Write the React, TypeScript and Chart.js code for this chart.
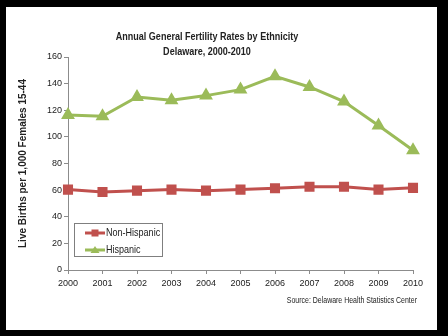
import React, { useEffect, useRef } from 'react';
import { Chart, registerables } from 'chart.js';

Chart.register(...registerables);

const years = ['2000', '2001', '2002', '2003', '2004', '2005', '2006', '2007', '2008', '2009', '2010'];
const nonHispanic = [60.4, 58.6, 59.6, 60.4, 59.6, 60.4, 61.4, 62.6, 62.6, 60.4, 61.7];
const hispanic = [116.5, 115.5, 130, 127.5, 131, 135.5, 145.5, 137.5, 126.5, 108.5, 90];
const yMin = 0;
const yMax = 160;
const yStep = 20;
const titleLines = ['Annual General Fertility Rates by Ethnicity', 'Delaware, 2000-2010'];
const yAxisTitle = 'Live Births per 1,000 Females 15-44';
const sourceText = 'Source: Delaware Health Statistics Center';
const seriesNames = ['Non-Hispanic', 'Hispanic'];

const SANS = '"Liberation Sans", Arial, sans-serif';
const RED = '#C0504D';
const GREEN = '#9BBB59';
const TEXT = '#222222';
const NARROW_SCALE = 0.82;

function narrowText(ctx: any, text: string, x: number, y: number, align: string) {
  ctx.save();
  ctx.translate(x, y);
  ctx.scale(NARROW_SCALE, 1);
  ctx.textAlign = align;
  ctx.textBaseline = 'middle';
  ctx.fillText(text, 0, 0);
  ctx.restore();
}

const decorPlugin = {
  id: 'decor',
  beforeDraw(chart: any) {
    const { ctx, width, height } = chart;
    ctx.save();
    ctx.fillStyle = '#000000';
    ctx.fillRect(0, 0, width, height);
    ctx.fillStyle = '#ffffff';
    ctx.fillRect(6, 7, 431, 323);
    ctx.restore();
  },
  afterDraw(chart: any) {
    const { ctx } = chart;
    ctx.save();
    ctx.fillStyle = TEXT;
    ctx.font = `bold 11px ${SANS}`;
    titleLines.forEach((t, i) => narrowText(ctx, t, 207, 37 + i * 15, 'center'));
    ctx.font = `8.5px ${SANS}`;
    narrowText(ctx, sourceText, 417, 301, 'right');
    // legend
    const lx = 74, ly = 223, lw = 88, lh = 33;
    ctx.strokeStyle = '#7f7f7f';
    ctx.lineWidth = 1;
    ctx.strokeRect(lx + 0.5, ly + 0.5, lw, lh);
    chart.data.datasets.forEach((ds: any, i: number) => {
      const cy = 233 + i * 17;
      ctx.strokeStyle = ds.borderColor;
      ctx.lineWidth = 3;
      ctx.beginPath();
      ctx.moveTo(85, cy);
      ctx.lineTo(105, cy);
      ctx.stroke();
      ctx.fillStyle = ds.pointBackgroundColor;
      if (ds.pointStyle === 'rect') {
        ctx.fillRect(91.5, cy - 3.5, 7, 7);
      } else {
        ctx.beginPath();
        ctx.moveTo(95, cy - 4);
        ctx.lineTo(99.5, cy + 3);
        ctx.lineTo(90.5, cy + 3);
        ctx.closePath();
        ctx.fill();
      }
      ctx.fillStyle = TEXT;
      ctx.font = `11px ${SANS}`;
      narrowText(ctx, ds.label, 106, cy, 'left');
    });
    ctx.restore();
  },
};

export default function App() {
  const ref = useRef<HTMLCanvasElement>(null);
  useEffect(() => {
    document.body.style.margin = '0';
    const chart = new Chart(ref.current!, {
      type: 'line',
      data: {
        labels: years,
        datasets: [
          {
            label: seriesNames[0],
            data: nonHispanic,
            borderColor: RED,
            backgroundColor: RED,
            pointBackgroundColor: RED,
            pointBorderColor: RED,
            pointStyle: 'rect',
            pointRadius: 5,
            borderWidth: 3,
            tension: 0,
          },
          {
            label: seriesNames[1],
            data: hispanic,
            borderColor: GREEN,
            backgroundColor: GREEN,
            pointBackgroundColor: GREEN,
            pointBorderColor: GREEN,
            pointStyle: 'triangle',
            pointRadius: 5,
            borderWidth: 3,
            tension: 0,
          },
        ],
      },
      options: {
        responsive: false,
        animation: false,
        layout: { padding: { left: 14, right: 35, top: 57, bottom: 43 } },
        plugins: { legend: { display: false }, title: { display: false }, tooltip: { enabled: false } },
        scales: {
          x: {
            offset: false,
            grid: { drawOnChartArea: false, drawTicks: true, tickLength: 4, color: '#8c8c8c' },
            border: { color: '#8c8c8c' },
            ticks: { color: TEXT, font: { family: SANS, size: 9 }, padding: 4, maxRotation: 0, autoSkip: false },
            afterFit(scale: any) { scale.height = 23; },
          },
          y: {
            min: yMin,
            max: yMax,
            grid: { drawOnChartArea: false, drawTicks: true, tickLength: 4, color: '#8c8c8c' },
            border: { color: '#8c8c8c' },
            ticks: { stepSize: yStep, color: TEXT, font: { family: SANS, size: 9 }, padding: 2 },
            title: { display: true, text: yAxisTitle, color: TEXT, font: { family: SANS, size: 10, weight: 'bold' }, padding: { top: 3, bottom: 0 } },
            afterFit(scale: any) { scale.width = 54; },
          },
        },
      },
      plugins: [decorPlugin],
    });
    return () => chart.destroy();
  }, []);
  return (
    <div style={{ position: 'absolute', left: 0, top: 0, width: 448, height: 336 }}>
      <canvas ref={ref} width={448} height={336} style={{ display: 'block', width: 448, height: 336 }} />
    </div>
  );
}
